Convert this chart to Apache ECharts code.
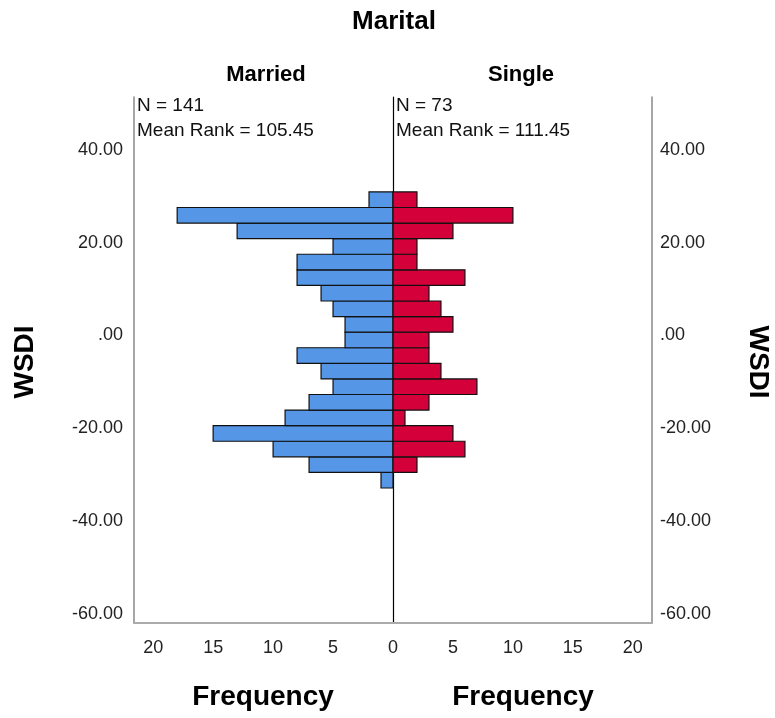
<!DOCTYPE html>
<html>
<head>
<meta charset="utf-8">
<script src="https://cdn.jsdelivr.net/npm/echarts@6/dist/echarts.min.js"></script>
<style>html,body{margin:0;padding:0;background:#fff}#c{width:775px;height:718px}</style>
</head>
<body>
<div id="c"></div>
<script>
// Bin edges of WSDI (ascending), counts listed bottom bin to top bin
const binEdges = [-32.9, -29.54, -26.18, -22.82, -19.46, -16.10, -12.74, -9.38, -6.02, -2.66,
                  0.70, 4.06, 7.42, 10.78, 14.14, 17.50, 20.86, 24.22, 27.58, 30.94];
const marriedCounts = [1, 7, 10, 15, 9, 7, 5, 6, 8, 4, 4, 5, 6, 8, 8, 5, 13, 18, 2];
const singleCounts  = [0, 2, 6, 5, 1, 3, 7, 4, 3, 3, 5, 4, 3, 6, 2, 2, 5, 10, 2];
const yTicks = [-60, -40, -20, 0, 20, 40];
const xTicksLeft = [5, 10, 15, 20];
const xTicksRight = [0, 5, 10, 15, 20];
const groups = ['Married', 'Single'];
const stats = [['N = 141', 'Mean Rank = 105.45'], ['N = 73', 'Mean Rank = 111.45']];

const FONT = '"Liberation Sans", Arial, sans-serif';
const Y_MIN = -62, Y_MAX = 51.4, X_MAX = 21.6;

function toData(counts) {
  const out = [];
  counts.forEach((c, i) => { if (c > 0) out.push([binEdges[i], binEdges[i + 1], c]); });
  return out;
}
function renderBar(params, api) {
  const lo = api.value(0), hi = api.value(1), c = api.value(2);
  const p0 = api.coord([0, hi]);
  const p1 = api.coord([c, lo]);
  return {
    type: 'rect',
    shape: { x: Math.min(p0[0], p1[0]), y: p0[1], width: Math.abs(p1[0] - p0[0]), height: p1[1] - p0[1] },
    style: api.style({ stroke: '#111', lineWidth: 1.2 })
  };
}
const yFmt = v => (v === 0 ? '.00' : v.toFixed(2));

const chart = echarts.init(document.getElementById('c'), null, { renderer: 'canvas' });
chart.setOption({
  animation: false,
  backgroundColor: '#fff',
  textStyle: { fontFamily: FONT },
  grid: [
    { left: 134, top: 97, width: 259, height: 526 },
    { left: 393, top: 97, width: 259, height: 526 }
  ],
  xAxis: [
    { gridIndex: 0, type: 'value', min: 0, max: X_MAX, inverse: true,
      axisLine: { show: true, onZero: false, lineStyle: { color: '#aaa', width: 2 } },
      axisTick: { show: false }, splitLine: { show: false },
      axisLabel: { customValues: xTicksLeft, color: '#222', fontSize: 18, margin: 16, fontFamily: FONT } },
    { gridIndex: 1, type: 'value', min: 0, max: X_MAX,
      axisLine: { show: true, onZero: false, lineStyle: { color: '#aaa', width: 2 } },
      axisTick: { show: false }, splitLine: { show: false },
      axisLabel: { customValues: xTicksRight, color: '#222', fontSize: 18, margin: 16, fontFamily: FONT } }
  ],
  yAxis: [
    { gridIndex: 0, type: 'value', min: Y_MIN, max: Y_MAX, position: 'left',
      axisLine: { show: true, onZero: false, lineStyle: { color: '#888', width: 1.5 } },
      axisTick: { show: false }, splitLine: { show: false },
      axisLabel: { customValues: yTicks, formatter: yFmt, color: '#222', fontSize: 18, margin: 11, fontFamily: FONT } },
    { gridIndex: 1, type: 'value', min: Y_MIN, max: Y_MAX, position: 'right',
      axisLine: { show: true, onZero: false, lineStyle: { color: '#888', width: 1.5 } },
      axisTick: { show: false }, splitLine: { show: false },
      axisLabel: { customValues: yTicks, formatter: yFmt, color: '#222', fontSize: 18, margin: 8, fontFamily: FONT } },
    { gridIndex: 1, type: 'value', min: Y_MIN, max: Y_MAX, position: 'left',
      axisLine: { show: true, onZero: false, lineStyle: { color: '#000', width: 1.2 } },
      axisTick: { show: false }, splitLine: { show: false }, axisLabel: { show: false } }
  ],
  series: [
    { type: 'custom', name: groups[0], xAxisIndex: 0, yAxisIndex: 0, renderItem: renderBar,
      itemStyle: { color: '#5596E6' }, encode: { x: 2, y: [0, 1] }, data: toData(marriedCounts), z: 1 },
    { type: 'custom', name: groups[1], xAxisIndex: 1, yAxisIndex: 1, renderItem: renderBar,
      itemStyle: { color: '#D3003A' }, encode: { x: 2, y: [0, 1] }, data: toData(singleCounts), z: 1 }
  ],
  graphic: [
    { type: 'text', x: 394, y: 22, style: { text: 'Marital', font: 'bold 26px ' + FONT, fill: '#000', align: 'center', verticalAlign: 'middle' } },
    { type: 'text', x: 266, y: 75, style: { text: groups[0], font: 'bold 22px ' + FONT, fill: '#000', align: 'center', verticalAlign: 'middle' } },
    { type: 'text', x: 521, y: 75, style: { text: groups[1], font: 'bold 22px ' + FONT, fill: '#000', align: 'center', verticalAlign: 'middle' } },
    { type: 'text', x: 137, y: 93, style: { text: stats[0][0] + '\n' + stats[0][1], font: '19px ' + FONT, lineHeight: 25, fill: '#111' } },
    { type: 'text', x: 396, y: 93, style: { text: stats[1][0] + '\n' + stats[1][1], font: '19px ' + FONT, lineHeight: 25, fill: '#111' } },
    { type: 'text', x: 263, y: 697, style: { text: 'Frequency', font: 'bold 28px ' + FONT, fill: '#000', align: 'center', verticalAlign: 'middle' } },
    { type: 'text', x: 523, y: 697, style: { text: 'Frequency', font: 'bold 28px ' + FONT, fill: '#000', align: 'center', verticalAlign: 'middle' } },
    { type: 'text', x: 25, y: 362, rotation: Math.PI / 2, style: { text: 'WSDI', font: 'bold 28px ' + FONT, fill: '#000', align: 'center', verticalAlign: 'middle' } },
    { type: 'text', x: 758, y: 362, rotation: -Math.PI / 2, style: { text: 'WSDI', font: 'bold 28px ' + FONT, fill: '#000', align: 'center', verticalAlign: 'middle' } }
  ]
});
</script>
</body>
</html>
